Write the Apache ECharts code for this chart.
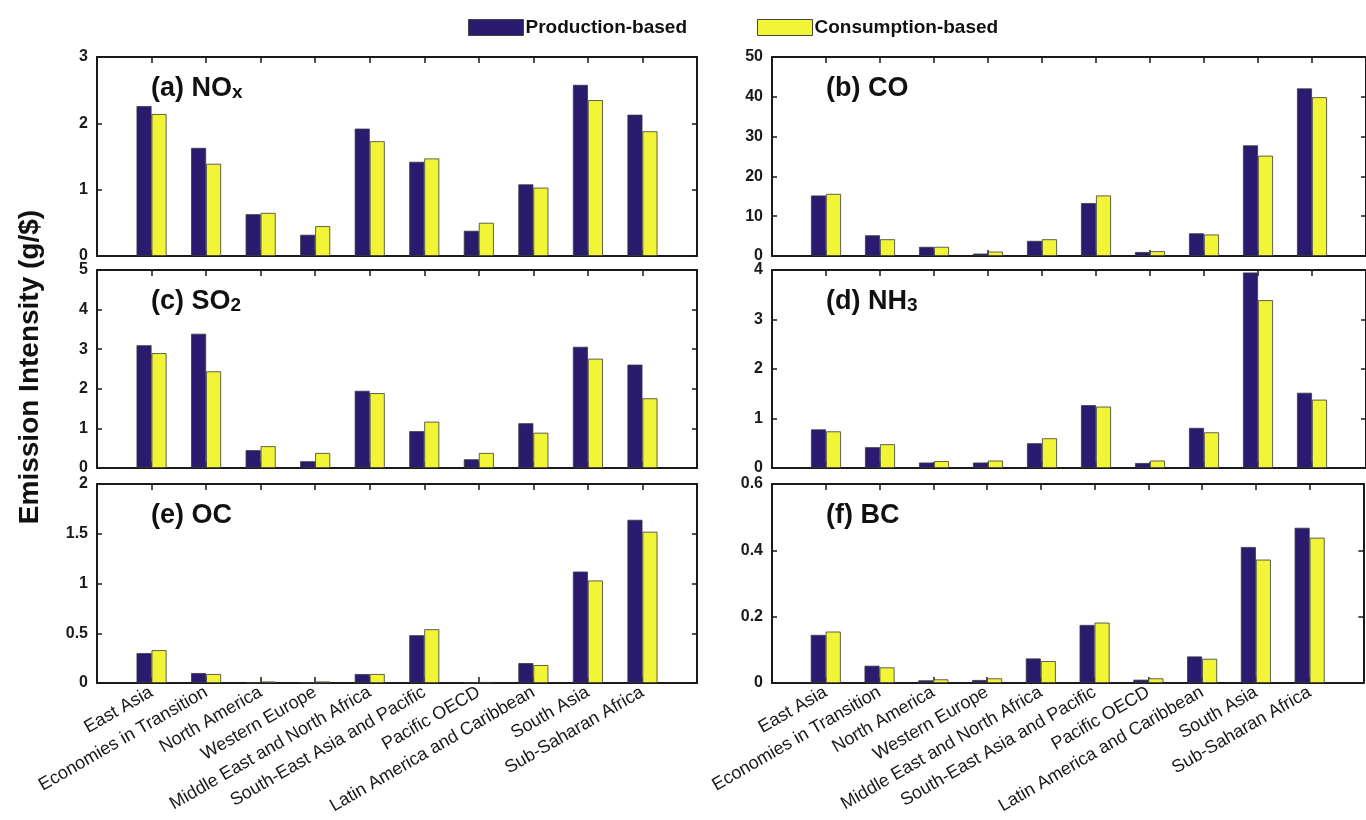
<!DOCTYPE html>
<html>
<head>
<meta charset="utf-8">
<script src="https://cdn.jsdelivr.net/npm/echarts@6/dist/echarts.min.js"></script>
<style>
html,body{margin:0;padding:0;background:#fff;}
#chart{width:1366px;height:820px;}
</style>
</head>
<body>
<div id="chart"></div>
<script>
// ---- data ----
const categories = ['East Asia','Economies in Transition','North America','Western Europe','Middle East and North Africa','South-East Asia and Pacific','Pacific OECD','Latin America and Caribbean','South Asia','Sub-Saharan Africa'];
const seriesNames = ['Production-based','Consumption-based'];

const noxProd = [2.26,1.63,0.63,0.32,1.92,1.42,0.38,1.08,2.58,2.13];
const noxCons = [2.14,1.39,0.65,0.45,1.73,1.47,0.50,1.03,2.35,1.88];
const coProd  = [15.2,5.2,2.3,0.6,3.8,13.3,1.0,5.7,27.8,42.1];
const coCons  = [15.6,4.2,2.3,1.1,4.2,15.2,1.2,5.4,25.2,39.9];
const so2Prod = [3.10,3.39,0.45,0.17,1.95,0.93,0.22,1.13,3.06,2.61];
const so2Cons = [2.90,2.44,0.55,0.38,1.89,1.17,0.38,0.89,2.76,1.76];
const nh3Prod = [0.78,0.42,0.11,0.11,0.50,1.27,0.10,0.81,3.95,1.52];
const nh3Cons = [0.74,0.48,0.14,0.15,0.60,1.24,0.15,0.72,3.39,1.38];
const ocProd  = [0.30,0.10,0.005,0.005,0.09,0.48,0.005,0.20,1.12,1.64];
const ocCons  = [0.33,0.09,0.015,0.015,0.09,0.54,0.01,0.18,1.03,1.52];
const bcProd  = [0.145,0.052,0.008,0.009,0.074,0.175,0.010,0.080,0.410,0.468];
const bcCons  = [0.155,0.047,0.011,0.014,0.066,0.182,0.014,0.073,0.372,0.438];

const panelTitles = ['(a) NO{s|x}','(b) CO','(c) SO{s|2}','(d) NH{s|3}','(e) OC','(f) BC'];
const yMax = [3,50,5,4,2,0.6];
const yStep = [1,10,1,1,0.5,0.2];
const panelData = [[noxProd,noxCons],[coProd,coCons],[so2Prod,so2Cons],[nh3Prod,nh3Cons],[ocProd,ocCons],[bcProd,bcCons]];

// ---- layout/style ----
const colors = ['#2a1b6e','#f2f535'];
const FONT = '"Liberation Sans", Arial, Helvetica, sans-serif';
const lefts = [97, 772];
const tops = [57, 270, 484];
const heights = [199, 198, 199];
const W = 600;

const axisCats = [''].concat(categories).concat(['']);
const lineStyle = {color:'#1a1a1a', width:2};
const tickStyle = {color:'#1a1a1a', width:1.5};

const grids=[], xAxes=[], yAxes=[], series=[], titles=[];
for (let p=0; p<6; p++){
  const col = p%2, row = Math.floor(p/2);
  const gl = lefts[col], gt = tops[row];
  grids.push({left: gl, top: gt, width: W, height: heights[row], containLabel:false});
  const showLabels = row===2;
  xAxes.push({
    type:'category', gridIndex:p, position:'bottom', data: axisCats, boundaryGap:false,
    axisLine:{show:true, onZero:false, lineStyle}, axisTick:{show:true, inside:true, length:6, interval:0, lineStyle:tickStyle},
    axisLabel:{show:showLabels, interval:0, rotate:30, margin:8, fontFamily:FONT, fontSize:18, color:'#1a1a1a'},
    splitLine:{show:false}
  });
  xAxes.push({
    type:'category', gridIndex:p, position:'top', data: axisCats, boundaryGap:false,
    axisLine:{show:true, onZero:false, lineStyle}, axisTick:{show:true, inside:true, length:6, interval:0, lineStyle:tickStyle},
    axisLabel:{show:false}, splitLine:{show:false}
  });
  yAxes.push({
    type:'value', gridIndex:p, position:'left', min:0, max:yMax[p], interval:yStep[p],
    axisLine:{show:true, onZero:false, lineStyle}, axisTick:{show:true, inside:true, length:5, lineStyle:tickStyle},
    axisLabel:{show:true, margin:9, fontFamily:FONT, fontWeight:'bold', fontSize:16, color:'#1a1a1a'},
    splitLine:{show:false}
  });
  yAxes.push({
    type:'value', gridIndex:p, position:'right', min:0, max:yMax[p], interval:yStep[p],
    axisLine:{show:true, onZero:false, lineStyle}, axisTick:{show:true, inside:true, length:5, lineStyle:tickStyle},
    axisLabel:{show:false}, splitLine:{show:false}
  });
  for (let s=0; s<2; s++){
    series.push({
      type:'bar', name: seriesNames[s], xAxisIndex: 2*p, yAxisIndex: 2*p,
      data: ['-'].concat(panelData[p][s]).concat(['-']),
      barWidth: 15, barGap:'0%',
      itemStyle:{color: colors[s], borderColor:'#3a3a3a', borderWidth:0.8},
      emphasis:{disabled:true}, animation:false
    });
  }
  titles.push({
    text: panelTitles[p], left: gl + 49, top: gt + 13,
    textStyle:{fontFamily:FONT, fontWeight:'bold', fontSize:27, color:'#111',
      rich:{s:{fontFamily:FONT, fontWeight:'bold', fontSize:19, color:'#111', verticalAlign:'bottom', padding:[6,0,0,0]}}}
  });
}

const chart = echarts.init(document.getElementById('chart'), null, {renderer:'canvas'});
chart.setOption({
  backgroundColor:'#fff',
  animation:false,
  title: titles,
  legend:{
    data: seriesNames, left: 463, top: 13, itemWidth: 55, itemHeight: 16, itemGap: 70,
    icon:'rect',
    itemStyle:{borderColor:'#444', borderWidth:1},
    textStyle:{fontFamily:FONT, fontWeight:'bold', fontSize:19, color:'#111', padding:[0,0,0,-3]}
  },
  grid: grids, xAxis: xAxes, yAxis: yAxes, series: series,
  graphic:[{
    type:'text', x: 30, y: 367, rotation: Math.PI/2,
    style:{text:'Emission Intensity (g/$)', font:'bold 28px "Liberation Sans", Arial, sans-serif', fill:'#111', textAlign:'center', textVerticalAlign:'middle'}
  }]
});
</script>
</body>
</html>
